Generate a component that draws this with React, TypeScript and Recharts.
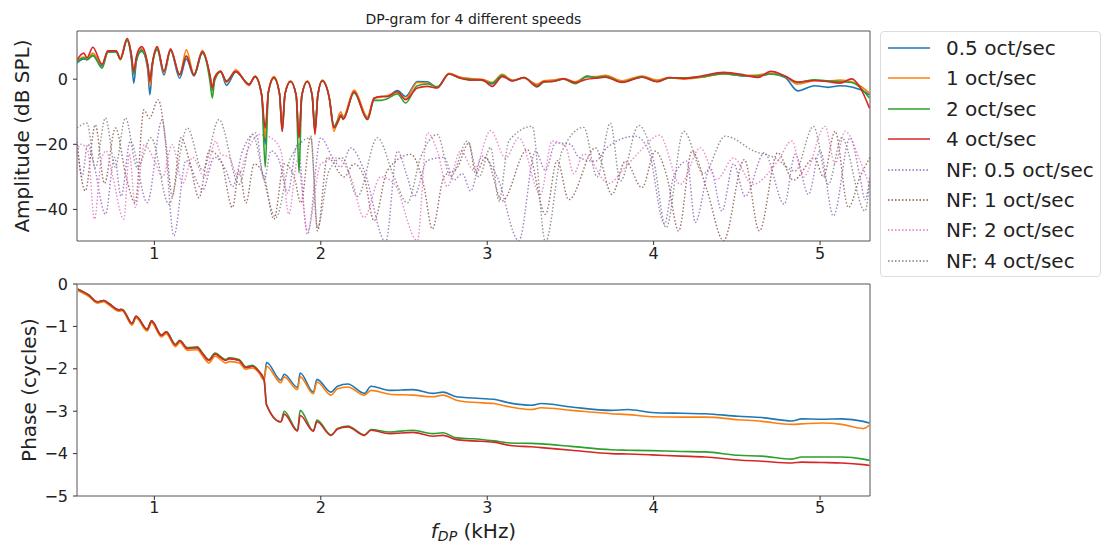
import { LineChart, Line, XAxis, YAxis, ReferenceArea } from "recharts";

// amplitude (dB SPL), shared frequency grid in kHz
const ampFreq = [
  0.536, 0.575, 0.595, 0.63, 0.686, 0.72, 0.77, 0.796, 0.836, 0.862, 0.876, 0.892, 0.923, 0.96, 0.973, 0.988,
  1.017, 1.057, 1.097, 1.152, 1.192, 1.238, 1.288, 1.335, 1.348, 1.362, 1.398, 1.433, 1.489, 1.569, 1.605,
  1.645, 1.666, 1.685, 1.718, 1.752, 1.768, 1.785, 1.818, 1.852, 1.869, 1.886, 1.919, 1.948, 1.965, 1.982,
  2.009, 2.05, 2.079, 2.109, 2.12, 2.135, 2.2, 2.28, 2.32, 2.36, 2.4, 2.46, 2.51, 2.58, 2.64, 2.7, 2.77, 2.84,
  2.9, 2.97, 3.03, 3.09, 3.15, 3.22, 3.3, 3.34, 3.39, 3.46, 3.53, 3.6, 3.65, 3.71, 3.81, 3.93, 4.02, 4.095,
  4.18, 4.28, 4.42, 4.545, 4.625, 4.705, 4.79, 4.866, 4.966, 5.05, 5.12, 5.19, 5.24, 5.297,
];
const amp05 = [
  5.0, 6.2, 6.0, 7.2, 4.0, 8.3, 8.5, 6.5, 12.0, 6.0, -1.2, 5.5, 9.0, 3.0, -4.8, 4.0,
  9.5, 1.3, 8.8, 0.3, 6.2, 1.0, 8.0, 0.5, -3.5, 0.5, 2.4, -1.9, 2.2, -1.5, 0.8,
  -5.0, -20, -4.0, 0.5, -4.5, -14, -4.5, -0.7, -5, -17, -5, -0.7, -5, -16, -5,
  -0.5, -5.5, -14.5, -12, -11, -12, -4, -12, -6, -5.3, -5.3, -3.5, -5.3, -0.7, -0.8, -2.5, 1.6, 0.5,
  -0.2, -0.2, -1.5, 1.0, -0.5, 0.5, -1.8, -0.7, -0.5, 0.1, -1.0, 1.0, 0.5, 1.0, -0.8, 0.8, -0.5, 0.4,
  0.3, 0.6, 1.8, 1.0, 1.0, 1.6, 0.5, -3.6, -2.0, -2.5, -2.0, -2.4, -3.2, -4.8,
];
const amp1 = [
  5.5, 6.8, 6.5, 8.0, 4.5, 8.5, 8.7, 6.5, 12.5, 7.5, 1.5, 6.5, 9.5, 4.0, -2.0, 4.5,
  9.8, 2.0, 9.0, 1.3, 9.0, 1.5, 8.8, 0.5, -3.0, 0.5, 2.5, -1.0, 2.9, -2.0, 1.0,
  -5.0, -18, -4.0, 0.8, -4.5, -15, -4.5, -0.5, -5, -18, -5, -0.5, -5, -16, -5,
  -0.3, -5.5, -16, -11, -10, -11.5, -3.3, -11.5, -5.8, -5.5, -5.0, -4.0, -6.0, -1.0, -1.2, -2.5, 1.8, 0.6,
  0.2, 0, -1.0, 1.5, -0.3, 0.3, -1.5, -0.5, -0.3, 0.2, -0.8, 0.8, 0.8, 1.2, -0.5, 1.0, -0.3, 0.5,
  0.0, 0.5, 1.6, 1.2, 1.3, 1.8, 0.8, -1.5, -0.5, -0.6, -0.3, -0.8, -2.0, -4.3,
];
const amp2 = [
  5.5, 6.5, 6.0, 7.4, 3.4, 8.3, 8.4, 6.0, 12.0, 7.0, 1.5, 6.0, 8.5, 4.5, 0.3, 5.0,
  9.0, 2.4, 8.8, 1.5, 7.2, 1.3, 8.2, -1.0, -5.8, -0.5, 2.2, -0.5, 2.3, -1.5, 0.8,
  -5.0, -27, -4.0, 0.3, -4.5, -16, -4.5, -0.7, -5, -28.7, -5, -0.7, -5, -15, -5,
  -0.5, -5.5, -14.5, -12, -11.5, -12, -4.2, -12.4, -6.5, -6.5, -6.0, -4.5, -7.3, -2.0, -1.5, -2.3, 1.6, 0.3,
  0.0, -0.4, -1.2, 1.2, -0.5, 0.5, -2.4, -0.9, -0.7, 0.0, -1.4, 0.8, 0.5, 0.9, -0.9, 0.7, -0.7, 0.4,
  0.4, 0.7, 1.7, 1.0, 1.0, 1.6, 0.8, -1.0, -0.2, -0.5, -0.8, -1.0, -2.5, -5.8,
];
const amp4 = [
  6.0, 8.0, 6.6, 9.8, 4.6, 8.7, 8.7, 6.2, 12.5, 7.5, 2.4, 7.0, 10.0, 4.5, -0.7, 5.0,
  10.0, 2.4, 9.3, 1.3, 7.0, 1.3, 8.5, 1.0, -2.7, 0.5, 2.4, -0.7, 2.4, -1.7, 0.8,
  -5.0, -15, -4.0, 0.5, -4.5, -16, -4.5, -0.7, -5, -18, -5, -0.7, -5, -17, -5,
  -0.5, -5.5, -15, -12.5, -11, -12.4, -3.8, -12.4, -5.8, -5.3, -5.3, -3.8, -6.3, -2.7, -2.2, -2.7, 1.6, 0.3,
  -0.3, -0.2, -2.2, 0.8, -0.5, 0.5, -2.2, -0.7, -0.7, 0.1, -1.0, 0.0, 0.3, 0.6, -1.0, 0.6, -0.8, 0.5,
  0.2, 0.9, 2.1, 1.3, 0.5, 2.4, 1.0, -0.9, -0.4, -0.8, -1.2, 0.1, -2.5, -8.9,
];

// noise floor curves, each with its own frequency points
const nf05Freq = [
  0.535, 0.565, 0.6, 0.64, 0.706, 0.76, 0.8, 0.855, 0.957, 1.047, 1.117, 1.19, 1.29, 1.36, 1.43, 1.47, 1.53,
  1.61, 1.66, 1.7, 1.75, 1.8, 1.86, 1.92, 2.0, 2.07, 2.12, 2.18, 2.26, 2.39, 2.46, 2.52, 2.56, 2.64, 2.74,
  2.8, 2.85, 2.9, 2.97, 3.06, 3.19, 3.29, 3.35, 3.41, 3.5, 3.55, 3.65, 3.72, 3.89, 3.97, 4.065, 4.12, 4.2,
  4.25, 4.34, 4.41, 4.48, 4.55, 4.665, 4.785, 4.85, 4.93, 5.0, 5.08, 5.18, 5.24, 5.27, 5.3,
];
const nf05 = [
  -18, -30, -20, -27, -41.5, -24, -36, -19, -37.9, -12.4, -48.1, -25, -34, -24, -28, -33, -22,
  -16.5, -31, -22, -25, -35, -20, -47.6, -18, -24, -27, -21.1, -28, -50, -22.1, -30, -36, -25, -24,
  -31, -29, -34.3, -23.6, -30, -49.6, -22.1, -28, -19.6, -20, -24, -25.2, -21, -17.5, -22, -44.5, -30, -25.2,
  -44, -27.2, -40.5, -26, -36, -22.6, -38.4, -23.1, -35.4, -22, -42, -18, -30, -37, -30,
];
const nf1Freq = [
  0.535, 0.585, 0.645, 0.7, 0.766, 0.83, 0.885, 0.937, 0.97, 1.023, 1.07, 1.107, 1.16, 1.21, 1.268, 1.33,
  1.4, 1.469, 1.51, 1.55, 1.6, 1.66, 1.718, 1.78, 1.84, 1.88, 1.94, 1.98, 2.04, 2.14, 2.2, 2.26, 2.32, 2.4,
  2.54, 2.62, 2.67, 2.74, 2.82, 2.89, 2.93, 2.99, 3.09, 3.24, 3.35, 3.42, 3.49, 3.65, 3.75, 3.83, 3.93,
  4.01, 4.08, 4.15, 4.23, 4.32, 4.42, 4.545, 4.635, 4.745, 4.84, 4.967, 5.02, 5.09, 5.17, 5.24, 5.3,
];
const nf1 = [
  -20, -34.3, -14, -32, -15, -30, -38, -9.4, -12, -6.3, -20, -36, -18, -25, -36.4, -22,
  -25, -39.4, -28, -38, -26, -30, -43, -26, -30, -38, -17.5, -46.6, -24, -30, -26, -30, -43.5, -28,
  -23.1, -33, -46, -30, -27.2, -19.6, -29, -24, -37.4, -21.6, -41.5, -25, -37, -21.1, -35.4, -25.2, -33.3,
  -22.1, -30, -46.6, -22.1, -34, -49.6, -24.7, -46.6, -22.6, -31, -24.2, -30, -16, -39.4, -30, -24,
];
const nf2Freq = [
  0.535, 0.56, 0.6, 0.64, 0.68, 0.71, 0.75, 0.816, 0.85, 0.886, 0.94, 1.0, 1.05, 1.107, 1.17, 1.23, 1.3,
  1.368, 1.4, 1.45, 1.5, 1.56, 1.63, 1.7, 1.76, 1.808, 1.86, 1.92, 2.0, 2.1, 2.18, 2.26, 2.36, 2.44, 2.58,
  2.64, 2.7, 2.76, 2.84, 2.92, 3.02, 3.11, 3.19, 3.32, 3.39, 3.47, 3.52, 3.58, 3.73, 3.83, 3.92, 4.035,
  4.16, 4.28, 4.38, 4.48, 4.595, 4.745, 4.83, 4.9, 5.03, 5.09, 5.15, 5.24, 5.3,
];
const nf2 = [
  -22, -20, -22, -43, -25, -22, -30, -43, -23, -39.4, -20, -25, -30, -20.1, -32, -24, -30,
  -19, -23, -24, -30, -22, -17, -18, -22, -41.5, -25, -46.6, -26, -24.2, -30, -42.5, -30, -32, -49.6,
  -16.5, -22, -33, -22, -28, -15.8, -24.2, -18, -35.4, -19, -20.6, -29, -23, -32, -27, -22, -17.2,
  -32.3, -21.1, -30.8, -24.2, -32.3, -25.2, -19, -30, -14.5, -26, -16, -25, -33,
];
const nf4Freq = [
  0.535, 0.595, 0.645, 0.706, 0.765, 0.826, 0.897, 0.98, 1.087, 1.198, 1.29, 1.388, 1.509, 1.59, 1.66, 1.73,
  1.82, 1.94, 1.98, 2.05, 2.13, 2.22, 2.34, 2.44, 2.52, 2.6, 2.7, 2.78, 2.88, 2.95, 3.02, 3.07, 3.13, 3.27,
  3.35, 3.45, 3.58, 3.66, 3.74, 3.8, 3.91, 4.0, 4.075, 4.18, 4.3, 4.43, 4.605, 4.73, 4.85, 4.96, 5.05, 5.13,
  5.27, 5.3,
];
const nf4 = [
  -15, -13.5, -27.2, -11.9, -27, -11.9, -27.2, -18, -38.4, -15, -28, -12.4, -32.3, -17, -31.3, -42.5,
  -24, -18, -45.6, -28, -24.2, -36, -18, -30, -38, -24, -17, -30, -19, -30, -21, -37.4, -19, -14.5,
  -50, -22, -14.8, -30, -13.5, -31.3, -14.2, -25, -45.6, -16, -29, -17.5, -22.1, -24.2, -28.2, -14.5, -32.3, -18,
  -40.5, -30,
];

// phase (cycles)
const phaseFreq = [
  0.541, 0.605, 0.656, 0.696, 0.726, 0.786, 0.806, 0.866, 0.89, 0.957, 0.983, 1.043, 1.071, 1.127, 1.152,
  1.198, 1.258, 1.288, 1.328, 1.364, 1.429, 1.449, 1.509, 1.549, 1.589, 1.629, 1.659, 1.674, 1.76, 1.78,
  1.86, 1.876, 1.955, 1.977, 2.061, 2.101, 2.162, 2.262, 2.302, 2.413, 2.553, 2.674, 2.734, 2.814, 2.914,
  3.04, 3.14, 3.264, 3.324, 3.505, 3.746, 3.846, 3.987, 4.17, 4.308, 4.509, 4.65, 4.83, 4.89, 5.01, 5.13,
  5.26, 5.297,
];
const phase05 = [
  -0.12, -0.26, -0.42, -0.39, -0.46, -0.61, -0.6, -0.93, -0.76, -1.07, -0.87, -1.21, -1.13, -1.44, -1.34,
  -1.52, -1.5, -1.64, -1.8, -1.65, -1.8, -1.76, -1.8, -1.97, -1.94, -2.07, -2.25, -1.85, -2.27, -2.13,
  -2.44, -2.1, -2.55, -2.25, -2.55, -2.41, -2.36, -2.58, -2.41, -2.51, -2.49, -2.58, -2.55, -2.66, -2.69,
  -2.72, -2.81, -2.86, -2.82, -2.9, -2.98, -2.96, -3.03, -3.05, -3.06, -3.12, -3.15, -3.23, -3.18, -3.19, -3.18,
  -3.24, -3.28,
];
const phase1 = [
  -0.16, -0.29, -0.45, -0.42, -0.49, -0.64, -0.63, -0.97, -0.8, -1.11, -0.91, -1.25, -1.17, -1.48, -1.38,
  -1.56, -1.55, -1.69, -1.86, -1.7, -1.86, -1.83, -1.86, -2.01, -1.98, -2.1, -2.27, -1.94, -2.33, -2.19,
  -2.49, -2.19, -2.59, -2.31, -2.62, -2.47, -2.43, -2.62, -2.51, -2.6, -2.62, -2.66, -2.62, -2.74, -2.79,
  -2.82, -2.9, -2.96, -2.92, -2.98, -3.06, -3.08, -3.13, -3.14, -3.14, -3.2, -3.24, -3.31, -3.3, -3.28, -3.31,
  -3.41, -3.33,
];
const phase2 = [
  -0.13, -0.26, -0.42, -0.39, -0.46, -0.61, -0.6, -0.93, -0.76, -1.07, -0.87, -1.21, -1.13, -1.42, -1.33,
  -1.5, -1.48, -1.62, -1.78, -1.63, -1.78, -1.74, -1.78, -1.95, -1.92, -2.06, -2.25, -2.85, -3.25, -3.0,
  -3.45, -2.98, -3.46, -3.21, -3.56, -3.41, -3.35, -3.56, -3.43, -3.49, -3.45, -3.53, -3.51, -3.63, -3.65,
  -3.7, -3.75, -3.76, -3.77, -3.83, -3.91, -3.92, -3.93, -3.95, -3.96, -4.04, -4.06, -4.13, -4.08, -4.08, -4.08,
  -4.13, -4.16,
];
const phase4 = [
  -0.12, -0.26, -0.42, -0.39, -0.46, -0.61, -0.6, -0.93, -0.76, -1.07, -0.87, -1.21, -1.13, -1.44, -1.34,
  -1.52, -1.5, -1.64, -1.8, -1.65, -1.8, -1.76, -1.8, -1.97, -1.94, -2.07, -2.25, -2.85, -3.25, -3.07,
  -3.47, -3.1, -3.47, -3.25, -3.57, -3.42, -3.37, -3.57, -3.45, -3.53, -3.5, -3.59, -3.57, -3.67, -3.7,
  -3.73, -3.81, -3.84, -3.86, -3.92, -4.0, -4.01, -4.03, -4.06, -4.08, -4.15, -4.18, -4.22, -4.2, -4.21, -4.22,
  -4.26, -4.28,
];

const xTicks = [1, 2, 3, 4, 5];
const ampTicks = [-40, -20, 0];
const phaseTicks = [-5, -4, -3, -2, -1, 0];
const X_DOMAIN: [number, number] = [0.535, 5.3];
const AMP_DOMAIN: [number, number] = [-49.7, 14.8];
const PHASE_DOMAIN: [number, number] = [-5, 0];

const mainSeries = [
  { key: "s05", name: "0.5 oct/sec", color: "#1f77b4" },
  { key: "s1", name: "1 oct/sec", color: "#ff7f0e" },
  { key: "s2", name: "2 oct/sec", color: "#2ca02c" },
  { key: "s4", name: "4 oct/sec", color: "#d62728" },
];
const nfSeries = [
  { name: "NF: 0.5 oct/sec", color: "#9467bd", freq: nf05Freq, vals: nf05 },
  { name: "NF: 1 oct/sec", color: "#8c564b", freq: nf1Freq, vals: nf1 },
  { name: "NF: 2 oct/sec", color: "#e377c2", freq: nf2Freq, vals: nf2 },
  { name: "NF: 4 oct/sec", color: "#7f7f7f", freq: nf4Freq, vals: nf4 },
];

const ampData = ampFreq.map((f, i) => ({ f, s05: amp05[i], s1: amp1[i], s2: amp2[i], s4: amp4[i] }));
const phaseData = phaseFreq.map((f, i) => ({ f, s05: phase05[i], s1: phase1[i], s2: phase2[i], s4: phase4[i] }));

const FONT = "'DejaVu Sans', sans-serif";
const tickStyle = { fill: "#222", fontSize: 16, fontFamily: FONT };
const fmt = (v: number) => (v < 0 ? "\u2212" + Math.abs(v) : String(v));

function Legend() {
  const items = [
    ...mainSeries.map((s) => ({ name: s.name, color: s.color, dash: undefined as string | undefined })),
    ...nfSeries.map((s) => ({ name: s.name, color: s.color, dash: "1.5 2" })),
  ];
  return (
    <div
      style={{
        position: "absolute",
        left: 880,
        top: 31,
        width: 221,
        height: 246,
        border: "1px solid #ddd",
        borderRadius: 4,
        boxSizing: "border-box",
        fontFamily: FONT,
        fontSize: 20,
        color: "#222",
        background: "#fff",
      }}
    >
      {items.map((it, i) => (
        <div key={it.name} style={{ position: "absolute", left: 0, top: 1 + i * 30.4, height: 30, width: 220 }}>
          <svg width={50} height={30} style={{ position: "absolute", left: 6, top: 0 }}>
            <line x1={1} x2={43} y1={15} y2={15} stroke={it.color} strokeWidth={1.6} strokeDasharray={it.dash} />
          </svg>
          <span style={{ position: "absolute", left: 65, top: 2, lineHeight: "26px", whiteSpace: "nowrap" }}>{it.name}</span>
        </div>
      ))}
    </div>
  );
}

export default function App() {
  return (
    <div style={{ position: "absolute", left: 0, top: 0, width: 1104, height: 546, background: "#fff" }}>
      <div style={{ position: "absolute", left: 0, top: 0 }}>
        <LineChart width={1104} height={275} data={ampData} margin={{ top: 31, right: 234, left: 17, bottom: 4 }}>
          <XAxis
            dataKey="f"
            type="number"
            domain={X_DOMAIN}
            ticks={xTicks}
            allowDataOverflow
            axisLine={false}
            tickLine={{ stroke: "#333" }}
            tickSize={4}
            tickMargin={3}
            tick={tickStyle}
            height={30}
          />
          <YAxis
            type="number"
            domain={AMP_DOMAIN}
            ticks={ampTicks}
            allowDataOverflow
            axisLine={false}
            tickLine={{ stroke: "#333" }}
            tickSize={4}
            tickMargin={5}
            tick={tickStyle}
            tickFormatter={fmt}
            width={60}
          />
          {nfSeries.map((s) => (
            <Line
              key={s.name}
              data={s.freq.map((f, i) => ({ f, v: s.vals[i] }))}
              dataKey="v"
              type="monotone"
              stroke={s.color}
              strokeWidth={1.4}
              strokeDasharray="1.5 2"
              strokeOpacity={0.85}
              dot={false}
              isAnimationActive={false}
            />
          ))}
          {mainSeries.map((s) => (
            <Line
              key={s.key}
              dataKey={s.key}
              type="monotone"
              stroke={s.color}
              strokeWidth={1.6}
              dot={false}
              isAnimationActive={false}
            />
          ))}
          <ReferenceArea x1={X_DOMAIN[0]} x2={X_DOMAIN[1]} y1={AMP_DOMAIN[0]} y2={AMP_DOMAIN[1]} fill="none" stroke="#555" strokeWidth={1} />
        </LineChart>
      </div>
      <div style={{ position: "absolute", left: 0, top: 260 }}>
        <LineChart width={1104} height={286} data={phaseData} margin={{ top: 24, right: 234, left: 17, bottom: 20 }}>
          <XAxis
            dataKey="f"
            type="number"
            domain={X_DOMAIN}
            ticks={xTicks}
            allowDataOverflow
            axisLine={false}
            tickLine={{ stroke: "#333" }}
            tickSize={4}
            tickMargin={2}
            tick={tickStyle}
            height={30}
          />
          <YAxis
            type="number"
            domain={PHASE_DOMAIN}
            ticks={phaseTicks}
            allowDataOverflow
            axisLine={false}
            tickLine={{ stroke: "#333" }}
            tickSize={4}
            tickMargin={5}
            tick={tickStyle}
            tickFormatter={fmt}
            width={60}
          />
          {mainSeries.map((s) => (
            <Line
              key={s.key}
              dataKey={s.key}
              type="monotone"
              stroke={s.color}
              strokeWidth={1.6}
              dot={false}
              isAnimationActive={false}
            />
          ))}
          <ReferenceArea x1={X_DOMAIN[0]} x2={X_DOMAIN[1]} y1={PHASE_DOMAIN[0]} y2={PHASE_DOMAIN[1]} fill="none" stroke="#555" strokeWidth={1} />
        </LineChart>
      </div>
      <svg width={1104} height={546} style={{ position: "absolute", left: 0, top: 0, pointerEvents: "none" }}>
        <text x={473.5} y={24} textAnchor="middle" fontFamily={FONT} fontSize={14} fill="#222">
          DP-gram for 4 different speeds
        </text>
        <text
          x={0}
          y={0}
          transform="translate(29,136) rotate(-90)"
          textAnchor="middle"
          fontFamily={FONT}
          fontSize={20}
          fill="#222"
        >
          Amplitude (dB SPL)
        </text>
        <text
          x={0}
          y={0}
          transform="translate(36,390) rotate(-90)"
          textAnchor="middle"
          fontFamily={FONT}
          fontSize={20}
          fill="#222"
        >
          Phase (cycles)
        </text>
        <text x={473.5} y={538} textAnchor="middle" fontFamily={FONT} fontSize={20} fill="#222">
          <tspan fontStyle="italic">f</tspan>
          <tspan fontStyle="italic" fontSize={14} dy={3}>DP</tspan>
          <tspan dy={-3}> (kHz)</tspan>
        </text>
      </svg>
      <Legend />
    </div>
  );
}
